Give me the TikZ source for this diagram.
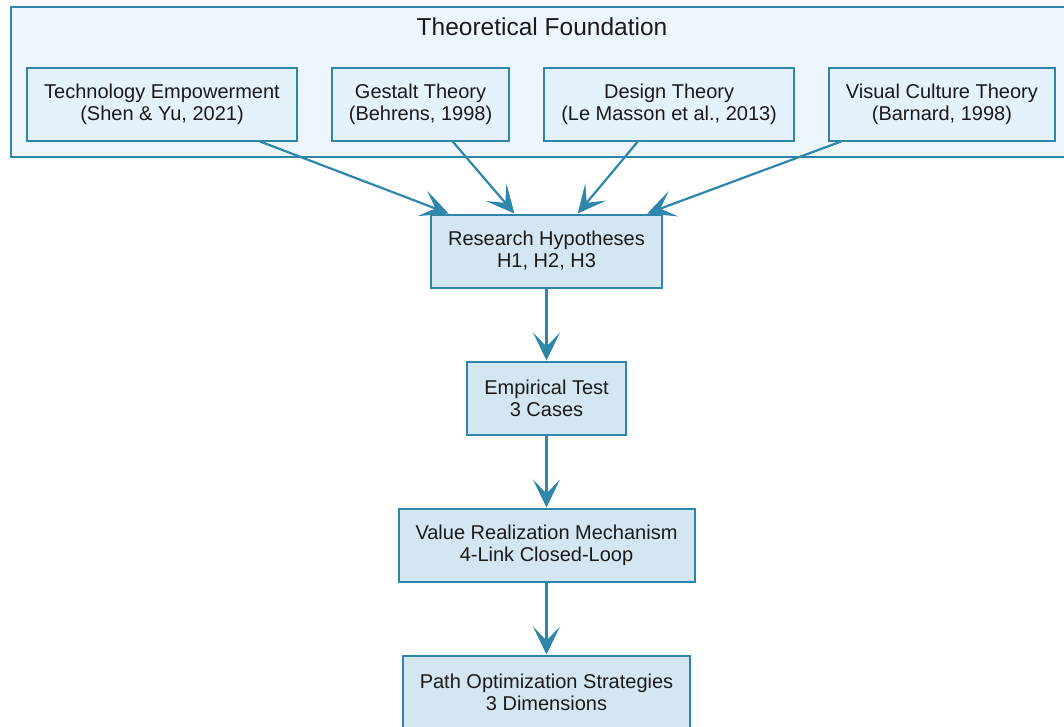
\documentclass[tikz,border=0pt]{standalone}
\usepackage{fontspec}
\setmainfont{Liberation Sans}
\usepackage{tikz}
\usetikzlibrary{positioning,
	arrows.meta,
	shapes}
\definecolor{edgeblue}{RGB}{46,134,171}
\definecolor{stagefill}{RGB}{212,230,241}
\definecolor{theoryfill}{RGB}{228,242,252}
\definecolor{clusterfill}{RGB}{238,246,253}
\definecolor{textgray}{RGB}{26,26,26}
\tikzstyle{theory}=[rectangle, draw=edgeblue, fill=theoryfill, line width=2pt,
	align=center, minimum height=73pt, inner xsep=17pt, text=textgray,
	font=\fontsize{20}{22}\selectfont]
\tikzstyle{stage}=[theory, fill=stagefill]
\tikzstyle{flow}=[-{Stealth[length=28pt, width=27pt, inset=14pt]}, draw=edgeblue,
	line width=2.2pt]
\tikzstyle{cluster}=[draw=edgeblue, fill=clusterfill, line width=2pt]

\begin{document}
\begin{tikzpicture}[x=1pt, y=1pt]
            \useasboundingbox (0,0) rectangle (1064,-726);
            % theoretical foundation cluster
            \draw[cluster] (11,-7) rectangle (1073,-157);
            \node[text=textgray, font=\fontsize{24.5}{28}\selectfont] (found) at (542,-27)
                {Theoretical Foundation};
            \node[theory] (tech) at (162,-104) {Technology Empowerment\\(Shen \& Yu, 2021)};
            \node[theory, right=33pt of tech] (gestalt) {Gestalt Theory\\(Behrens, 1998)};
            \node[theory, right=33pt of gestalt] (design) {Design Theory\\(Le Masson et al., 2013)};
            \node[theory, right=33pt of design] (visual) {Visual Culture Theory\\(Barnard, 1998)};
            % main chain
            \node[stage] (hyp) at (546.5,-251) {Research Hypotheses\\H1, H2, H3};
            \node[stage, below=72pt of hyp] (test) {Empirical Test\\3 Cases};
            \node[stage, below=72pt of test] (value) {Value Realization Mechanism\\4-Link Closed-Loop};
            \node[stage, below=72pt of value] (path) {Path Optimization Strategies\\3 Dimensions};
            \draw[flow] (tech) to (hyp);
            \draw[flow] (gestalt) to (hyp);
            \draw[flow] (design) to (hyp);
            \draw[flow] (visual) to (hyp);
            \draw[flow] (hyp) to (test);
            \draw[flow] (test) to (value);
            \draw[flow] (value) to (path);
        \end{tikzpicture}
\end{document}
